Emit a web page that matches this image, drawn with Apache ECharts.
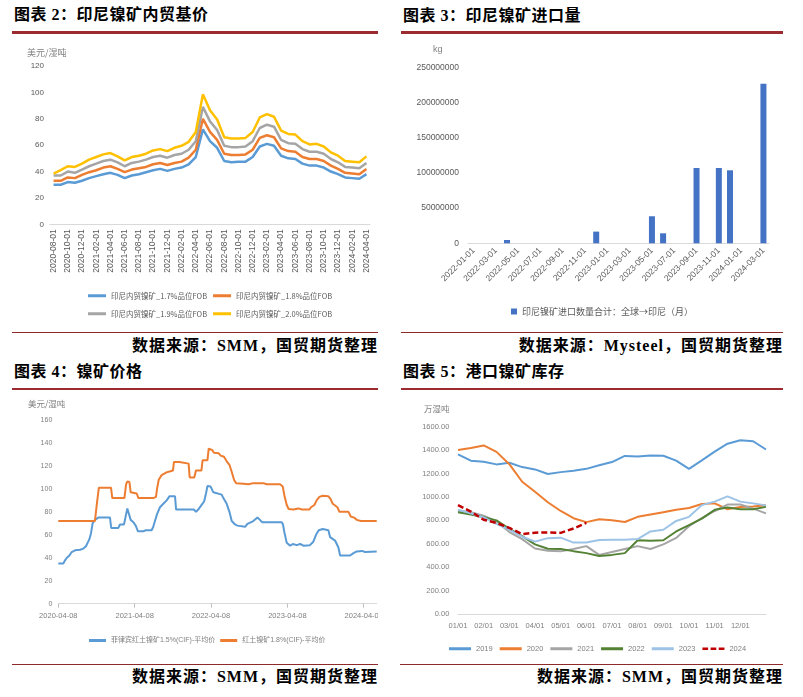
<!DOCTYPE html>
<html><head><meta charset="utf-8">
<script src="https://cdn.jsdelivr.net/npm/echarts@6/dist/echarts.min.js"></script>
<style>
html,body{margin:0;padding:0;background:#fff;width:803px;height:697px;overflow:hidden;position:relative;}
.t{position:absolute;font-family:"Liberation Serif","Noto Sans CJK SC";font-weight:bold;font-size:16px;color:#000;white-space:nowrap;line-height:20px;letter-spacing:0.5px;}
.rl{position:absolute;height:2.5px;background:#9b2b2e;}
.bl{position:absolute;height:1px;background:#8e2a2a;}
.src{position:absolute;font-family:"Liberation Serif","Noto Sans CJK SC";font-weight:bold;font-size:16px;color:#000;white-space:nowrap;line-height:20px;letter-spacing:1px;text-align:right;}
.c{position:absolute;}
</style></head><body>
<div class="t" style="left:14px;top:5px">图表 2：印尼镍矿内贸基价</div>
<div class="rl" style="left:12px;top:31px;width:366px"></div>
<div class="t" style="left:403px;top:6px">图表 3：印尼镍矿进口量</div>
<div class="rl" style="left:401px;top:31px;width:382px"></div>
<div class="t" style="left:14px;top:362px">图表 4：镍矿价格</div>
<div class="rl" style="left:12px;top:387.5px;width:366px"></div>
<div class="t" style="left:403px;top:362px">图表 5：港口镍矿库存</div>
<div class="rl" style="left:401px;top:387.5px;width:382px"></div>

<div class="bl" style="left:12px;top:332px;width:366px"></div>
<div class="bl" style="left:401px;top:332px;width:382px"></div>
<div class="bl" style="left:12px;top:664px;width:366px"></div>
<div class="bl" style="left:400px;top:664px;width:383px"></div>
<div class="src" style="right:425px;top:336px">数据来源：SMM，国贸期货整理</div>
<div class="src" style="right:20px;top:336px">数据来源：Mysteel，国贸期货整理</div>
<div class="src" style="right:425px;top:667px">数据来源：SMM，国贸期货整理</div>
<div class="src" style="right:20px;top:667px">数据来源：SMM，国贸期货整理</div>

<div id="c1" class="c" style="left:0;top:36px;width:400px;height:296px"></div>
<div id="c2" class="c" style="left:400px;top:36px;width:403px;height:296px"></div>
<div id="c3" class="c" style="left:0;top:392px;width:378px;height:272px"></div>
<div id="c4" class="c" style="left:400px;top:392px;width:403px;height:272px"></div>

<script>
// ---------- Chart 1: 印尼镍矿内贸基价 ----------
const months1 = ['2020-08-01','2020-09-01','2020-10-01','2020-11-01','2020-12-01',
'2021-01-01','2021-02-01','2021-03-01','2021-04-01','2021-05-01','2021-06-01','2021-07-01','2021-08-01','2021-09-01','2021-10-01','2021-11-01','2021-12-01',
'2022-01-01','2022-02-01','2022-03-01','2022-04-01','2022-05-01','2022-06-01','2022-07-01','2022-08-01','2022-09-01','2022-10-01','2022-11-01','2022-12-01',
'2023-01-01','2023-02-01','2023-03-01','2023-04-01','2023-05-01','2023-06-01','2023-07-01','2023-08-01','2023-09-01','2023-10-01','2023-11-01','2023-12-01',
'2024-01-01','2024-02-01','2024-03-01','2024-04-01'];
const fob17 = [30,30,32,31.5,33, 35,36.5,38,39,37.5,35,37,38,39.5,41,42,40.5, 42,43,45.5,51,72,63,58,48,47,47.5,47.5,51, 59,61,59.5,52,50,49.5,46,44.5,44.5,43,40,38, 35.5,35,34.5,38];
const fob18 = [33,33,35.5,35,37.5, 39.5,41,43,44,42,39.5,41.5,42.5,43.5,45.5,46.5,45, 46.5,47.5,50.5,56.5,80,70,64,53.5,52.5,52.5,53,56.5, 65.5,67.5,66,57.5,55.5,55,51,49.5,49.5,48,44.5,42, 39,38.5,38,42];
const fob19 = [37,37,40,39,41.5, 44,46,48,49,47,44,46.5,47.5,49,51,52,50.5, 52.5,53.5,56.5,63,89,78,71.5,59.5,58.5,58.5,59,63, 73,75.5,74,64,61.5,61,57,55,55,53.5,49.5,47, 43.5,43,42.5,46.5];
const fob20 = [38.5,41,44,43.5,46, 49,51,53,54,51.5,48.5,51,52,53.5,56,57,55.5, 58,59.5,62.5,70,98.5,86.5,79.5,66,65,65,65.5,70, 81,83.5,81.5,71,68.5,68,63,60.5,61,59,54.5,52, 48,47.5,47,51.5];
const names1 = ['印尼内贸镍矿_1.7%品位FOB','印尼内贸镍矿_1.8%品位FOB','印尼内贸镍矿_1.9%品位FOB','印尼内贸镍矿_2.0%品位FOB'];
const colors1 = ['#5b9bd5','#ed7d31','#a5a5a5','#ffc000'];

// ---------- Chart 2: 印尼镍矿进口量 ----------
const months2 = ['2022-01-01','2022-02-01','2022-03-01','2022-04-01','2022-05-01','2022-06-01','2022-07-01','2022-08-01','2022-09-01','2022-10-01','2022-11-01','2022-12-01',
'2023-01-01','2023-02-01','2023-03-01','2023-04-01','2023-05-01','2023-06-01','2023-07-01','2023-08-01','2023-09-01','2023-10-01','2023-11-01','2023-12-01',
'2024-01-01','2024-02-01','2024-03-01'];
const importsKg = [0,0,0,4700000,0,0,0,0,0,0,0,16600000, 0,0,0,0,38400000,14200000,0,0,107000000,0,107000000,103700000, 0,0,226800000];
const name2 = '印尼镍矿进口数量合计：全球→印尼（月）';

// ---------- Chart 3: 镍矿价格 ----------
const philDates = ['2020-04-08','2020-05-02','2020-05-11','2020-05-19','2020-05-31','2020-06-11','2020-06-27','2020-07-21','2020-08-06','2020-08-18','2020-08-26','2020-09-03','2020-09-11','2020-09-19','2020-09-30','2020-10-16','2020-12-11','2020-12-17',
'2021-01-20','2021-01-28','2021-02-16','2021-02-24','2021-03-04','2021-03-12','2021-03-20','2021-04-02','2021-04-13','2021-04-24','2021-05-19','2021-05-31','2021-06-28','2021-07-06','2021-07-14','2021-07-24','2021-08-07','2021-08-23','2021-09-08','2021-09-21','2021-10-18','2021-10-23',
'2022-01-17','2022-01-26','2022-02-06','2022-02-22','2022-03-06','2022-03-15','2022-03-22','2022-04-06','2022-04-19','2022-05-29','2022-06-06','2022-06-22','2022-07-05','2022-07-16','2022-08-01','2022-08-12','2022-09-18','2022-09-29','2022-10-27','2022-11-16','2022-11-28','2022-12-08',
'2023-03-12','2023-03-18','2023-03-25','2023-04-05','2023-04-21','2023-05-04','2023-05-23','2023-06-08','2023-06-24','2023-07-25','2023-08-10','2023-08-23','2023-09-05','2023-09-24','2023-10-21','2023-10-29','2023-11-22','2023-12-08','2023-12-16',
'2024-02-02','2024-02-18','2024-03-05','2024-03-29','2024-04-13','2024-06-08'];
const philPrice = [35,35,38,40,42,45,46.5,47,48,50,53,56,61,70,73,75,75,66,
66,69,69,76,83,82,73,71,68,63,63,64,64,67,72,78,84,87,90,93.5,93.5,82,
82,80,82,86,89,96,102.5,102,97,95,92,87,80,72,69,68,67,69.5,72,75,73,71,
71,69,62,53,50.5,52,51,52,50.5,51,54,60,64,65,64,58,55,49,42,
42,44,45.5,46,45,45.5];
const latDates = ['2020-04-08','2020-09-30','2020-10-10','2020-10-19','2020-12-16','2020-12-22',
'2021-02-18','2021-02-26','2021-03-04','2021-03-14','2021-03-20','2021-04-18','2021-04-26','2021-07-06','2021-07-09','2021-07-19','2021-07-24','2021-08-01','2021-08-15','2021-09-03','2021-09-18','2021-10-08','2021-10-13','2021-11-08','2021-11-14','2021-12-22','2021-12-27',
'2022-01-18','2022-01-26','2022-02-21','2022-02-27','2022-03-22','2022-03-28','2022-04-13','2022-04-22','2022-05-15','2022-05-24','2022-06-09','2022-06-22','2022-07-05','2022-07-14','2022-07-27','2022-08-06','2022-09-10','2022-10-04','2022-10-27','2022-12-14','2022-12-30',
'2023-03-04','2023-03-17','2023-03-25','2023-04-05','2023-04-14','2023-05-07','2023-05-15','2023-05-31','2023-06-16','2023-07-22','2023-07-30','2023-08-15','2023-08-26','2023-09-08','2023-09-24','2023-10-21','2023-11-01','2023-11-11','2023-12-03','2023-12-13',
'2024-01-25','2024-02-05','2024-02-21','2024-03-05','2024-03-24','2024-06-08'];
const latPrice = [72,72,88,101,101,92,
92,104,106.5,106,97,96,92,92,93,93,100,108,112,114,115,116,123.5,123.5,122,122,110,
110,116,116,125,125,135,134,131.5,131,129,128,124,121,116,108,105,104.5,104,105,105,104,
104,102,94,86,82.5,82,83.5,83,82,82,84,86,90,93,94,93.5,91,87,84,80,
80,76,75,73,72,72];
const names3 = ['菲律宾红土镍矿1.5%(CIF)-平均价','红土镍矿1.8%(CIF)-平均价'];
const yearTicks3 = ['2020-04-08','2021-04-08','2022-04-08','2023-04-08','2024-04-08'];

// ---------- Chart 4: 港口镍矿库存 ----------
const days4 = ['01/01','01/15','02/01','02/15','03/01','03/15','04/01','04/15','05/01','05/15','06/01','06/15',
'07/01','07/15','08/01','08/15','09/01','09/15','10/01','10/15','11/01','11/15','12/01','12/15','12/31'];
const inv2019 = [1364,1310,1300,1278,1292,1255,1235,1196,1212,1224,1240,1270,1298,1350,1345,1355,1352,1310,1240,1313,1387,1455,1485,1476,1405];
const inv2020 = [1401,1418,1440,1385,1280,1130,1045,955,880,818,785,810,800,786,830,850,870,890,905,940,945,895,915,918,930];
const inv2021 = [880,870,840,790,700,640,560,540,535,555,580,505,530,555,580,555,595,650,750,820,880,935,935,900,860];
const inv2022 = [870,850,826,800,728,665,595,558,555,537,520,495,505,520,630,625,630,705,760,815,890,910,895,895,915];
const inv2023 = [890,860,825,770,720,660,618,648,652,610,610,632,635,635,640,705,720,795,830,930,960,1005,960,945,928];
const inv2024 = [930,875,805,778,735,683,695,697,693,730,778,null,null,null,null,null,null,null,null,null,null,null,null,null,null];
const years4 = ['2019','2020','2021','2022','2023','2024'];
const colors4 = ['#5b9bd5','#ed7d31','#a5a5a5','#548235','#9dc3e6','#c00000'];

const FONT = 'Liberation Sans, Noto Sans CJK SC, sans-serif';
const CJK = 'Noto Sans CJK SC, sans-serif';
const axisLineGray = {lineStyle:{color:'#d9d9d9',width:1}};
const DASH_ICON = 'path://M0,0H7V3H0Z M10,0H17V3H10Z M20,0H27V3H20Z';

// Chart 1
const ch1 = echarts.init(document.getElementById('c1'), null, {renderer:'canvas'});
const legText1 = {fontSize:7.5,color:'#595959',fontFamily:CJK};
ch1.setOption({
  animation:false,
  grid:{left:50,right:30,top:30,bottom:107.7,outerBoundsMode:'none',containLabel:false},
  graphic:[{type:'text',left:27,top:12,style:{text:'美元/湿吨',fontSize:9,fill:'#7f7f7f',fontFamily:CJK}}],
  xAxis:{type:'category',data:months1,boundaryGap:true,axisLine:axisLineGray,axisTick:{show:false},
    axisLabel:{rotate:90,interval:1,fontSize:8.5,color:'#595959',margin:5,fontFamily:FONT}},
  yAxis:{type:'value',min:0,max:120,interval:20,splitLine:{show:false},axisLine:{show:false},axisTick:{show:false},
    axisLabel:{fontSize:8,color:'#595959',margin:6,fontFamily:FONT}},
  legend:[
    {data:[names1[0],names1[1]],left:83,top:251,icon:'rect',itemWidth:18,itemHeight:3,itemGap:6,textStyle:legText1},
    {data:[names1[2],names1[3]],left:83,top:269,icon:'rect',itemWidth:18,itemHeight:3,itemGap:6,textStyle:legText1}
  ],
  series:[fob17,fob18,fob19,fob20].map((d,i)=>({name:names1[i],type:'line',data:d,symbol:'none',
    lineStyle:{width:2.5,color:colors1[i]},itemStyle:{color:colors1[i]}}))
});

// Chart 2
const ch2 = echarts.init(document.getElementById('c2'));
ch2.setOption({
  animation:false,
  grid:{left:68,right:34,top:31.3,bottom:88.7,outerBoundsMode:'none',containLabel:false},
  graphic:[{type:'text',left:33,top:9,style:{text:'kg',fontSize:9,fill:'#7f7f7f',fontFamily:FONT}}],
  xAxis:{type:'category',data:months2,axisLine:axisLineGray,axisTick:{show:false},
    axisLabel:{rotate:45,interval:1,fontSize:8.5,color:'#595959',margin:6,fontFamily:FONT}},
  yAxis:{type:'value',min:0,max:250000000,interval:50000000,splitLine:{show:false},axisLine:{show:false},axisTick:{show:false},
    axisLabel:{fontSize:8.5,color:'#595959',margin:9,fontFamily:FONT,formatter:v=>String(v)}},
  legend:{data:[name2],left:106,top:266,icon:'rect',itemWidth:6,itemHeight:6,itemGap:4,
    textStyle:{fontSize:9,color:'#595959',fontFamily:CJK}},
  series:[{name:name2,type:'bar',data:importsKg,barWidth:6,itemStyle:{color:'#4472c4'}}]
});

// Chart 3
const DAY = 86400000;
const base3 = Date.UTC(2020,3,8);
const dayOf = s => { const p = s.split('-'); return Math.round((Date.UTC(+p[0],+p[1]-1,+p[2]) - base3)/DAY); };
const ch3 = echarts.init(document.getElementById('c3'));
const legText3 = {fontSize:7,color:'#7f7f7f',fontFamily:FONT};
ch3.setOption({
  animation:false,
  grid:{left:58.3,right:1.3,top:28,bottom:60.3,outerBoundsMode:'none',containLabel:false},
  graphic:[{type:'text',left:28,top:8,style:{text:'美元/湿吨',fontSize:8.5,fill:'#7f7f7f',fontFamily:CJK}}],
  xAxis:{type:'value',min:0,max:dayOf('2024-06-08'),interval:365,splitLine:{show:false},axisLine:axisLineGray,
    axisTick:{show:true,length:4,lineStyle:{color:'#bfbfbf'}},
    axisLabel:{fontSize:7.5,color:'#7f7f7f',margin:8,fontFamily:FONT,showMaxLabel:false,hideOverlap:false,
      formatter:v=>{ if (v % 365 !== 0) return ''; const k = v/365; return yearTicks3[k] || ''; }}},
  yAxis:{type:'value',min:0,max:160,interval:20,splitLine:{show:false},axisLine:{show:false},axisTick:{show:false},
    axisLabel:{fontSize:7,color:'#7f7f7f',margin:6,fontFamily:FONT}},
  legend:{data:names3,left:84,top:240,icon:'rect',itemWidth:17,itemHeight:3,itemGap:5,textStyle:legText3},
  series:[
    {name:names3[0],type:'line',symbol:'none',data:philDates.map((d,i)=>[dayOf(d),philPrice[i]]),
      lineStyle:{width:2,color:'#5b9bd5'},itemStyle:{color:'#5b9bd5'}},
    {name:names3[1],type:'line',symbol:'none',data:latDates.map((d,i)=>[dayOf(d),latPrice[i]]),
      lineStyle:{width:2,color:'#ed7d31'},itemStyle:{color:'#ed7d31'}}
  ]
});

// Chart 4
const ch4 = echarts.init(document.getElementById('c4'));
ch4.setOption({
  animation:false,
  grid:{left:58,right:37,top:34.7,bottom:50,outerBoundsMode:'none',containLabel:false},
  graphic:[{type:'text',left:24,top:13,style:{text:'万湿吨',fontSize:8.5,fill:'#7f7f7f',fontFamily:CJK}}],
  xAxis:{type:'category',data:days4,boundaryGap:false,axisLine:axisLineGray,axisTick:{show:false},
    axisLabel:{interval:(i,v)=>v.endsWith('/01'),fontSize:7.5,color:'#7f7f7f',margin:8,fontFamily:FONT}},
  yAxis:{type:'value',min:0,max:1600,interval:200,splitLine:{show:false},axisLine:{show:false},axisTick:{show:false},
    axisLabel:{fontSize:7.5,color:'#7f7f7f',margin:8.7,fontFamily:FONT,formatter:v=>v.toFixed(2)}},
  legend:{data:years4.map((y,i)=>({name:y,icon:i===5?DASH_ICON:'rect'})),left:44,top:248,itemWidth:22,itemHeight:3,itemGap:7,
    textStyle:{fontSize:7.5,color:'#7f7f7f',fontFamily:FONT}},
  series:[inv2019,inv2020,inv2021,inv2022,inv2023,inv2024].map((d,i)=>({
    name:years4[i],type:'line',data:d,symbol:'none',
    lineStyle:{width:i===5?2.5:2,color:colors4[i],type:i===5?[6,3]:'solid'},itemStyle:{color:colors4[i]}}))
});
</script>
</body></html>
